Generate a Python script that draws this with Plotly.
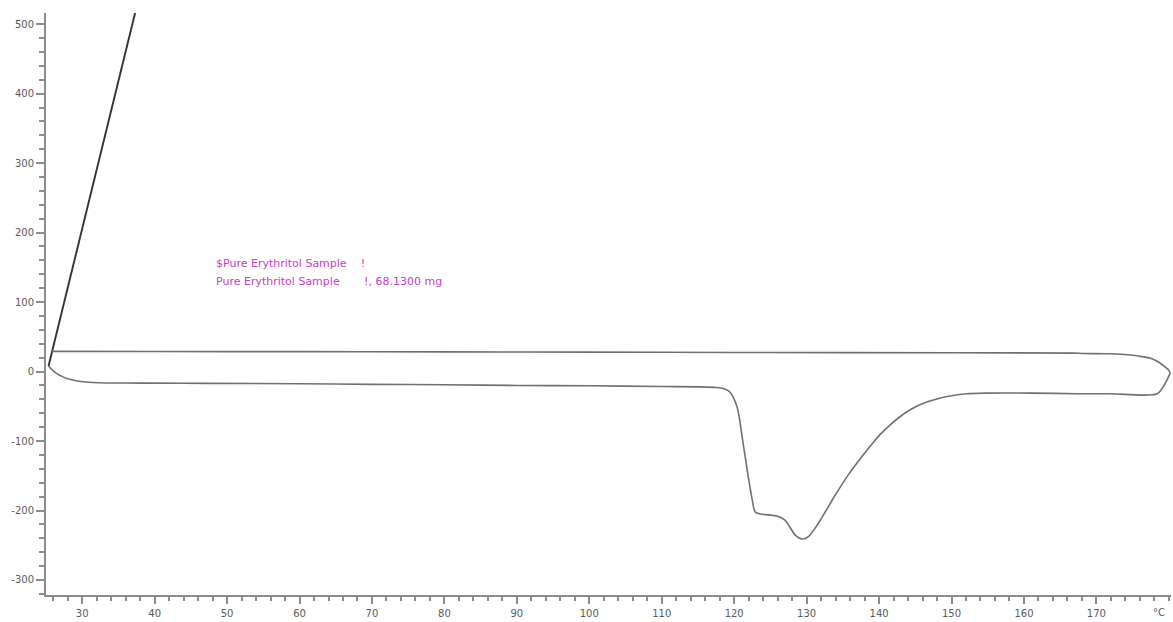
import plotly.graph_objects as go

# DSC trace of pure erythritol: heat flow vs. temperature
# Fast initial segment at the start of the run
ramp_T = [25.35, 37.3]
ramp_HF = [8, 516]

# Heating segment (melting endotherm near 129 °C)
heat_T = [25.35, 25.6, 26.0, 26.5, 27.2, 28.0, 29.0, 30.2, 31.5, 33.5, 36,
          40, 47.2, 60, 70, 80, 90, 100, 110, 115, 117.5, 118.7, 119.4,
          120.4, 121.1, 121.8, 122.5, 122.9, 123.6, 125.9, 127.0, 127.7,
          128.4, 129.4, 130.2, 131.2, 132.0, 132.8, 133.7, 134.6, 135.8,
          137.0, 138.1, 139.2, 140.3, 141.5, 142.7, 143.9, 145.2, 146.6,
          148.0, 149.4, 152.1, 155.0, 161.3, 167.3, 172.0, 178.4, 179.5,
          180.2]
heat_HF = [8, 5, 1, -3, -7, -10.5, -13, -14.8, -15.8, -16.4, -16.6, -16.7,
           -17, -17.5, -18.5, -19, -20, -20.5, -21.5, -22, -23, -25, -29.5,
           -51, -94, -142, -185, -202, -205, -208, -214, -224, -235, -241,
           -238, -225, -212, -198, -182, -167, -148, -131, -116, -102, -89,
           -77, -66.5, -57.5, -50, -44, -39.5, -36, -32, -31, -31, -32, -32,
           -32, -17, -2]

# Cooling segment back to room temperature
cool_T = [180.2, 179.9, 179.5, 178.5, 177.4, 176.0, 174.7, 172.0, 168.0,
          167.0, 150, 120, 100, 80, 60, 40, 25.8]
cool_HF = [-2, 3, 6.5, 14, 19.4, 22, 23.7, 25.5, 26, 26.5, 27, 27.5, 28,
           28.3, 28.6, 28.8, 29]

x_ticks = [30, 40, 50, 60, 70, 80, 90, 100, 110, 120, 130, 140, 150, 160, 170]
x_labels = [str(v) for v in x_ticks]
y_ticks = [-300, -200, -100, 0, 100, 200, 300, 400, 500]
y_labels = [str(v) for v in y_ticks]

nb = "\u00a0"
sample_lines = ["$Pure Erythritol Sample" + nb * 4 + "!",
                "Pure Erythritol Sample" + nb * 7 + "!, 68.1300 mg"]

axis_col = "#8c8c8c"
text_col = "#5a5a5a"
curve_col = "#707070"
label_col = "#c440c4"
font_fam = "DejaVu Sans"

fig = go.Figure()
fig.add_trace(go.Scatter(x=ramp_T, y=ramp_HF, mode="lines",
                         line=dict(color="#333333", width=1.9)))
fig.add_trace(go.Scatter(x=heat_T, y=heat_HF, mode="lines",
                         line=dict(color=curve_col, width=1.6, shape="spline",
                                   smoothing=0.8)))
fig.add_trace(go.Scatter(x=cool_T, y=cool_HF, mode="lines",
                         line=dict(color=curve_col, width=1.6, shape="spline",
                                   smoothing=0.6)))

fig.add_annotation(x=48.2, y=156, text=sample_lines[0], showarrow=False,
                   xanchor="left", yanchor="middle",
                   font=dict(family=font_fam, size=11, color=label_col))
fig.add_annotation(x=48.2, y=130, text=sample_lines[1], showarrow=False,
                   xanchor="left", yanchor="middle",
                   font=dict(family=font_fam, size=11, color=label_col))
fig.add_annotation(x=178.6, xref="x", y=0, yref="paper", text="°C",
                   showarrow=False, xanchor="center", yanchor="top",
                   yshift=-10, font=dict(family=font_fam, size=10, color=text_col))

fig.update_xaxes(range=[25, 180.3], tickmode="array", tickvals=x_ticks,
                 ticktext=x_labels, showline=True, linecolor=axis_col,
                 linewidth=2, ticks="outside", ticklen=7, tickwidth=1.5,
                 tickcolor=axis_col, showgrid=False, zeroline=False,
                 ticklabelstandoff=1,
                 tickfont=dict(family=font_fam, size=10, color=text_col),
                 minor=dict(tickmode="linear", tick0=0, dtick=2,
                            ticks="outside", ticklen=4, tickwidth=1.5,
                            tickcolor=axis_col, showgrid=False))
fig.update_yaxes(range=[-321.6, 516], tickmode="array", tickvals=y_ticks,
                 ticktext=y_labels, showline=True, linecolor=axis_col,
                 linewidth=2, ticks="outside", ticklen=8, tickwidth=1.5,
                 tickcolor=axis_col, showgrid=False, zeroline=False,
                 tickfont=dict(family=font_fam, size=10, color=text_col),
                 minor=dict(tickmode="linear", tick0=0, dtick=20,
                            ticks="outside", ticklen=5, tickwidth=1.5,
                            tickcolor=axis_col, showgrid=False))

fig.update_layout(width=1173, height=622, showlegend=False,
                  margin=dict(l=46, r=2, t=13, b=27),
                  paper_bgcolor="white", plot_bgcolor="white")

fig.write_html("out.html")
